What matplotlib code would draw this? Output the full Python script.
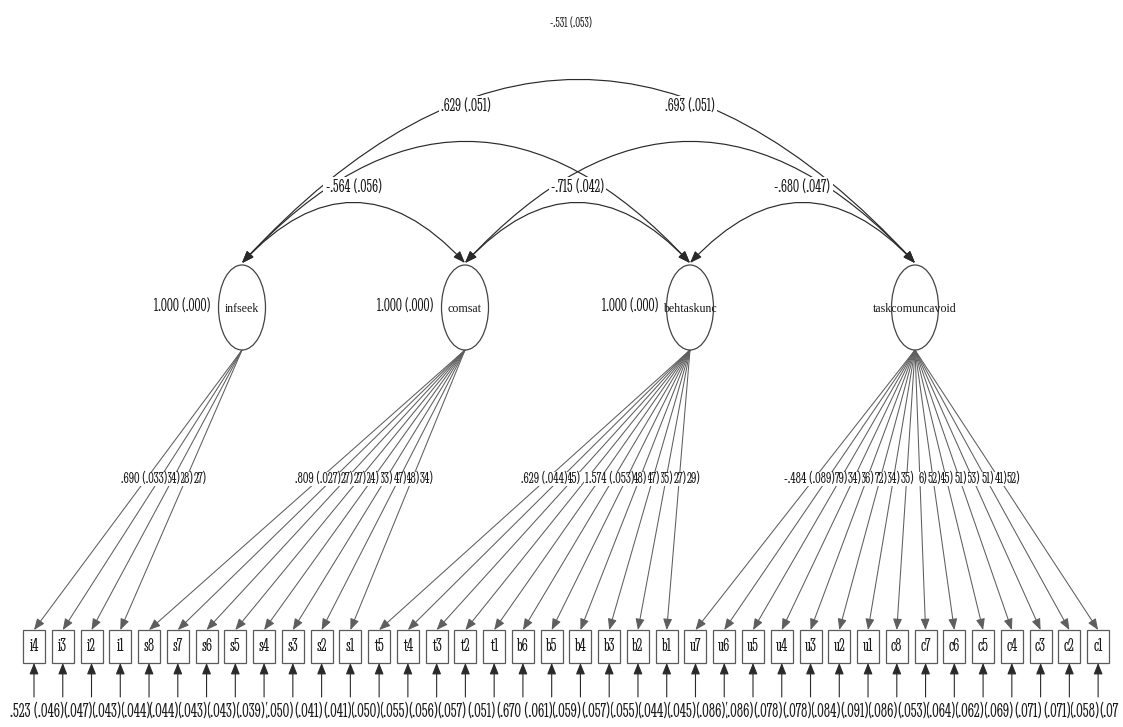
import matplotlib
matplotlib.use("Agg")
import matplotlib.pyplot as plt
from matplotlib.patches import Ellipse, Rectangle, FancyArrowPatch
from matplotlib.path import Path
from matplotlib import font_manager
from matplotlib.font_manager import FontProperties
from matplotlib.ft2font import FT2Font

# ---------------------------------------------------------------- model content
factors = ["infseek", "comsat", "behtaskunc", "taskcomuncavoid"]
factor_variance = ["1.000 (.000)", "1.000 (.000)", "1.000 (.000)", None]

indicators = [
    ["i4", "i3", "i2", "i1"],
    ["s8", "s7", "s6", "s5", "s4", "s3", "s2", "s1"],
    ["t5", "t4", "t3", "t2", "t1", "b6", "b5", "b4", "b3", "b2", "b1"],
    ["u7", "u6", "u5", "u4", "u3", "u2", "u1",
     "c8", "c7", "c6", "c5", "c4", "c3", "c2", "c1"],
]

# loading labels as printed (overlapping labels leave only their tails visible)
loading_labels = [
    [".690 (.033)", "34)", "28)", "27)"],
    [".809 (.027)", "27)", "27)", "24)", "33)", "47)", "48)", "34)"],
    [".629 (.044)", "45)", "", "", "1", ".574 (.053)", "48)", "47)", "35)", "27)", "29)"],
    ["-.484 (.089)", "79)", "34)", "36)", "72)", "34)", "35)", "6)", "52)",
     "45)", "51)", "53)", "51)", "41)", "52)"],
]

# residual variance labels under the indicator boxes
residual_labels = [
    ".523 (.046)", "(.047)", "(.043)", "(.044)", "(.044)", "(.043)", "(.043)", "(.039)",
    "(.050)", "(.041)", "(.041)", "(.050)", "(.055)", "(.056)", "(.057)", "(.051)",
    "(", ".670 (.061)", "(.059)", "(.057)", "(.055)", "(.044)", "(.045)", "(.086)",
    "(.086)", "(.078)", "(.078)", "(.084)", "(.091)", "(.086)", "(.053)", "(.064)",
    "(.062)", "(.069)", "(.071)", "(.071)", "(.058)", "(.07",
]

# factor covariances: (from, to, label)
covariances = [
    (0, 1, "-.564 (.056)"),
    (1, 2, "-.715 (.042)"),
    (2, 3, "-.680 (.047)"),
    (0, 2, ".629 (.051)"),
    (1, 3, ".693 (.051)"),
    (0, 3, "-.531 (.053)"),
]

# ---------------------------------------------------------------- layout
W, H = 1123, 727
factor_x = [242, 465, 690, 915]
factor_y = 307.5
ell_w, ell_h = 47, 85
box_x0, box_dx = 34.0, 28.76
box_top, box_w, box_h = 630, 22, 33
err_start = 697
load_label_y = 479
load_half = 21
resid_label_y = 712
resid_half = 30
arc_base = factor_y - ell_h / 2 - 2
arc_rise = {1: 60, 2: 121, 3: 183}
cov_label_offset = {1: (0, -15), 2: (0, -35), 3: (-8, -57)}

LINE = "#5e5e5e"
DARK = "#2a2a2a"
TEXT = "#1a1a1a"


# ---------------------------------------------------------------- fonts
def em_width(path, s):
    f = FT2Font(path)
    f.set_size(100, 72)
    f.set_text(s, 0.0)
    w, _ = f.get_width_height()
    return w / 64.0 / 100.0


sans_names = {"DejaVu Sans", "Liberation Sans", "Liberation Sans Narrow", "Noto Sans",
              "Roboto", "Open Sans", "Lato", "Inter", "Roboto Condensed",
              "Open Sans Condensed", "Arial Narrow"}
best_path, best_w = None, 1e9
for fe in font_manager.fontManager.ttflist:
    if fe.style != "normal" or fe.weight not in (400, "normal", "regular"):
        continue
    if not (fe.name in sans_names or "Condensed" in fe.name or "Narrow" in fe.name):
        continue
    if "Mono" in fe.name or "Serif" in fe.name:
        continue
    try:
        w = em_width(fe.fname, "(.047)")
    except Exception:
        continue
    if w < best_w:
        best_path, best_w = fe.fname, w


def numfp(sample, target_px):
    size = target_px / (em_width(best_path, sample) * 100 / 72)
    return FontProperties(fname=best_path, size=size)


fp_resid = numfp("(.047)", 29.5)
fp_load = numfp(".690 (.033)", 47)
fp_cov = numfp("-.564 (.056)", 56)
fp_top = numfp("-.531 (.053)", 42)
fp_var = numfp("1.000 (.000)", 57)
fp_box = numfp("s8", 11)
NAMEFONT = "Liberation Serif"

fig = plt.figure(figsize=(W / 100, H / 100), dpi=100)
ax = fig.add_axes([0, 0, 1, 1])
ax.set_xlim(0, W)
ax.set_ylim(H, 0)
ax.axis("off")
renderer = fig.canvas.get_renderer()


def left_edge(t):
    bb = t.get_window_extent(renderer=renderer)
    inv = ax.transData.inverted()
    return inv.transform((bb.x0, bb.y0))[0]


def arrow(p0, p1, color=LINE, lw=0.8, z=2, scale=9):
    ax.add_patch(FancyArrowPatch(
        p0, p1, arrowstyle="-|>,head_length=0.75,head_width=0.3",
        mutation_scale=scale, color=color, lw=lw, shrinkA=0, shrinkB=0, zorder=z))


def place_labels(labels, centers, half, y, fp):
    """Labels end at their slot's right edge; each one masks the start of the
    label to its right, so only the tails of crowded labels stay visible."""
    n = len(labels)
    next_full_left = None
    for k in range(n - 1, -1, -1):
        s = labels[k]
        if not s:
            continue
        full = " " in s
        x, ha = centers[k] + half, "right"
        nxt = [j for j in range(k + 1, n) if labels[j]]
        if not full and nxt and " " in labels[nxt[0]] and next_full_left is not None:
            x = next_full_left
        elif not full and not nxt and not s.endswith(")") and k > 0:
            # the last label runs off the edge: it starts where the previous one ends
            x, ha = centers[k - 1] + half, "left"
        z = 8 if (full and k > 0) else 5 + (n - k) * 0.01
        t = ax.text(x, y, s, ha=ha, va="center", zorder=z, color=TEXT,
                    fontproperties=fp,
                    bbox=dict(fc="white", ec="none", pad=0.2))
        if full:
            next_full_left = left_edge(t)


# ---------------------------------------------------------------- boxes
box_centers = []
for names in indicators:
    for _ in names:
        box_centers.append(box_x0 + box_dx * len(box_centers))

all_names = [n for grp in indicators for n in grp]
for bx, name in zip(box_centers, all_names):
    ax.add_patch(Rectangle((bx - box_w / 2, box_top), box_w, box_h,
                           fc="white", ec="#5a5a5a", lw=0.9, zorder=3))
    ax.text(bx, box_top + box_h / 2, name, ha="center", va="center", zorder=4,
            color=TEXT, fontproperties=fp_box)
    arrow((bx, err_start), (bx, box_top + box_h), color=DARK, lw=0.8)

place_labels(residual_labels, box_centers, resid_half, resid_label_y, fp_resid)

# ---------------------------------------------------------------- loadings
ell_bottom = factor_y + ell_h / 2
k = 0
for g, names in enumerate(indicators):
    fx = factor_x[g]
    xs_at_label = []
    for _ in names:
        bx = box_centers[k]
        arrow((fx, ell_bottom), (bx, box_top), color=LINE, lw=0.75, z=1)
        t = (load_label_y - ell_bottom) / (box_top - ell_bottom)
        xs_at_label.append(fx + t * (bx - fx))
        k += 1
    place_labels(loading_labels[g], xs_at_label, load_half, load_label_y, fp_load)

# ---------------------------------------------------------------- factors
for fx, name, var in zip(factor_x, factors, factor_variance):
    ax.add_patch(Ellipse((fx, factor_y), ell_w, ell_h, fc="white", ec="#444444",
                         lw=0.9, zorder=3))
    ax.text(fx, factor_y + 1, name, ha="center", va="center", family=NAMEFONT,
            fontsize=8.6, color=TEXT, zorder=5)
    if var:
        ax.text(fx - ell_w / 2 - 8, factor_y, var, ha="right", va="center",
                zorder=5, color=TEXT, fontproperties=fp_var)

# ---------------------------------------------------------------- covariances
for a, b, lab in covariances:
    span = b - a
    xa, xb = factor_x[a], factor_x[b]
    mid = (xa + xb) / 2
    rise = arc_rise[span]
    path = Path([(xa, arc_base), (mid, arc_base - 2 * rise), (xb, arc_base)],
                [Path.MOVETO, Path.CURVE3, Path.CURVE3])
    ax.add_patch(FancyArrowPatch(path=path,
                                 arrowstyle="<|-|>,head_length=0.8,head_width=0.3",
                                 mutation_scale=9, color=DARK, lw=0.85, zorder=2))
    dx, dy = cov_label_offset[span]
    fp = fp_top if span == 3 else fp_cov
    ax.text(mid + dx, arc_base - rise + dy, lab, ha="center", va="center", zorder=6,
            color=TEXT, fontproperties=fp,
            bbox=dict(fc="white", ec="none", pad=1.5))

fig.savefig("out.png", dpi=100, facecolor="white")
